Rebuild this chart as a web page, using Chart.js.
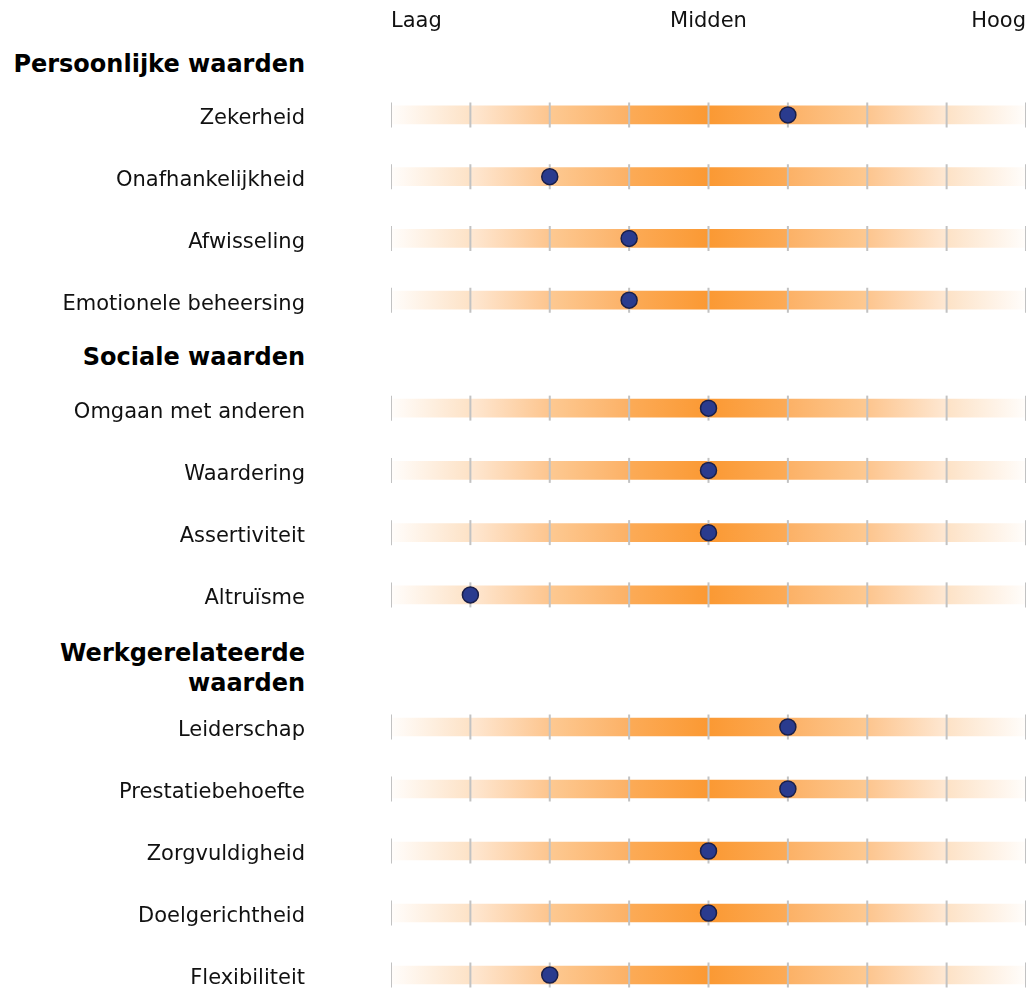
<!DOCTYPE html>
<html>
<head>
<meta charset="utf-8">
<script src="https://cdn.jsdelivr.net/npm/chart.js@4"></script>
<style>
  body { margin: 0; overflow: hidden; background: #fff; font-family: 'DejaVu Sans', sans-serif; }
  #wrap { position: relative; width: 1032px; height: 994px; }
  .box { position: absolute; left: 0; width: 1032px; }
  .box canvas { display: block; }
  .head { position: absolute; left: 0; width: 305px; text-align: right; font-weight: bold;
          font-size: 24px; line-height: 30px; color: #000; }
</style>
</head>
<body>
<div id="wrap"></div>
<script>
const groups = ['Persoonlijke waarden', 'Sociale waarden', 'Werkgerelateerde waarden'];

const personalLabels = ['Zekerheid', 'Onafhankelijkheid', 'Afwisseling', 'Emotionele beheersing'];
const personalScores = [5, 2, 3, 3];

const socialLabels = ['Omgaan met anderen', 'Waardering', 'Assertiviteit', 'Altruïsme'];
const socialScores = [4, 4, 4, 1];

const workLabels = ['Leiderschap', 'Prestatiebehoefte', 'Zorgvuldigheid', 'Doelgerichtheid', 'Flexibiliteit'];
const workScores = [5, 5, 4, 4, 2];

const scaleTicks = [0, 1, 2, 3, 4, 5, 6, 7, 8];
const levelLabels = ['Laag', 'Midden', 'Hoog'];

// colours of each bar segment, left -> right
const segmentColors = [
    ['#fffdfb', '#fde2c6'],
    ['#fee8d3', '#fdc58e'],
    ['#fdc992', '#fcb166'],
    ['#fcab57', '#fb9933'],
    ['#fb9933', '#fcab57'],
    ['#fcb166', '#fdc992'],
    ['#fdc58e', '#fee8d3'],
    ['#fde2c6', '#fffdfb']
];

// where each block sits on the page
const layout = [
    { head: 49, top: 0, height: 331, levels: true },
    { head: 342, top: 377, height: 249, levels: false },
    { head: 638, top: 696, height: 310, levels: false }
];

Chart.defaults.font.family = "'DejaVu Sans', sans-serif";
Chart.defaults.color = '#111';

function segmentFill(k) {
    return (ctx) => {
        const chart = ctx.chart;
        if (!chart.chartArea) return segmentColors[k][1];
        const xs = chart.scales.x;
        const g = chart.ctx.createLinearGradient(xs.getPixelForValue(k), 0, xs.getPixelForValue(k + 1), 0);
        g.addColorStop(0, segmentColors[k][0]);
        g.addColorStop(1, segmentColors[k][1]);
        return g;
    };
}

function makeChart(block, title, labels, scores) {
    const wrap = document.getElementById('wrap');

    const head = document.createElement('div');
    head.className = 'head';
    head.style.top = block.head + 'px';
    head.textContent = title;
    wrap.appendChild(head);

    const box = document.createElement('div');
    box.className = 'box';
    box.style.top = block.top + 'px';
    box.style.height = block.height + 'px';
    const canvas = document.createElement('canvas');
    canvas.width = 1032;
    canvas.height = block.height;
    box.appendChild(canvas);
    wrap.appendChild(box);

    const datasets = [];
    datasets.push({
        type: 'scatter',
        order: 0,
        data: labels.map((l, i) => ({ x: scores[i], y: l })),
        pointRadius: 8,
        pointBackgroundColor: '#2a3b8e',
        pointBorderColor: '#1b1f48',
        pointBorderWidth: 1.5
    });
    datasets.push({
        type: 'scatter',
        order: 1,
        data: labels.flatMap(l => scaleTicks.map(t => ({ x: t, y: l }))),
        pointStyle: 'line',
        rotation: 90,
        pointRadius: 12.5,
        pointBorderColor: '#c2c2c2',
        pointBorderWidth: 2
    });
    for (let k = 0; k < scaleTicks.length - 1; k++) {
        datasets.push({
            type: 'bar',
            order: 2,
            data: labels.map(() => [scaleTicks[k], scaleTicks[k + 1]]),
            backgroundColor: segmentFill(k),
            borderWidth: 0,
            grouped: false,
            barThickness: 18
        });
    }

    return new Chart(canvas, {
        type: 'bar',
        data: { labels: labels, datasets: datasets },
        options: {
            indexAxis: 'y',
            responsive: false,
            animation: false,
            events: [],
            layout: { autoPadding: false, padding: { left: 0, right: 6, top: 0, bottom: 0 } },
            plugins: { legend: { display: false }, tooltip: { enabled: false } },
            scales: {
                x: {
                    type: 'linear',
                    position: 'top',
                    display: block.levels,
                    min: 0,
                    max: 8,
                    grid: { display: false, drawTicks: true, tickLength: 50 },
                    border: { display: false },
                    afterFit: (s) => { if (block.levels) s.height = 84; },
                    ticks: {
                        stepSize: 4,
                        align: 'inner',
                        padding: 0,
                        font: { size: 21 },
                        callback: (v) => levelLabels[v / 4]
                    }
                },
                y: {
                    type: 'category',
                    grid: { display: false, drawTicks: true, tickLength: 98.6 },
                    border: { display: false },
                    afterFit: (s) => { s.width = 391; },
                    ticks: { padding: -12.6, labelOffset: 4, autoSkip: false, font: { size: 21 } }
                }
            }
        }
    });
}

makeChart(layout[0], groups[0], personalLabels, personalScores);
makeChart(layout[1], groups[1], socialLabels, socialScores);
makeChart(layout[2], groups[2], workLabels, workScores);
</script>
</body>
</html>
